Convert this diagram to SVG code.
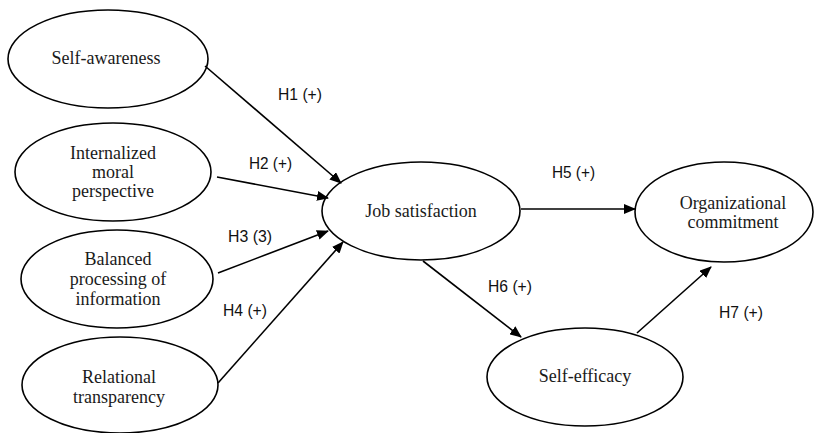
<svg xmlns="http://www.w3.org/2000/svg" width="819" height="433" viewBox="0 0 819 433">
<defs>
<style>
.n{fill:#fff;stroke:#000;stroke-width:1.6}
.t{font-family:"Liberation Serif","Times New Roman",serif;font-size:18px;fill:#1a1a1a;text-anchor:middle}
.l{font-family:"Liberation Sans",Arial,sans-serif;font-size:16px;fill:#111}
.c{stroke:#000;stroke-width:1.6;fill:none;marker-end:url(#ah)}
</style>
<marker id="ah" markerWidth="12" markerHeight="10" refX="11" refY="5" orient="auto" markerUnits="userSpaceOnUse">
<path d="M0,0 L12,5 L0,10 Z" fill="#000"/>
</marker>
</defs>
<rect width="819" height="433" fill="#fff"/>
<g id="self-awareness"><ellipse class="n" cx="108" cy="59" rx="100" ry="49"/><text class="t" x="106" y="64">Self-awareness</text></g>
<g id="internalized"><ellipse class="n" cx="113" cy="172" rx="98" ry="49"/><text class="t" x="113" y="159">Internalized</text><text class="t" x="113" y="178">moral</text><text class="t" x="113" y="197">perspective</text></g>
<g id="balanced"><ellipse class="n" cx="117" cy="279" rx="96" ry="49"/><text class="t" x="118" y="265">Balanced</text><text class="t" x="118" y="285">processing of</text><text class="t" x="118" y="305">information</text></g>
<g id="relational"><ellipse class="n" cx="120" cy="385" rx="98" ry="48"/><text class="t" x="119" y="383">Relational</text><text class="t" x="119" y="403">transparency</text></g>
<g id="job"><ellipse class="n" cx="421" cy="211" rx="99" ry="49"/><text class="t" x="421" y="217">Job satisfaction</text></g>
<g id="org"><ellipse class="n" cx="724" cy="212" rx="89" ry="50"/><text class="t" x="733" y="209">Organizational</text><text class="t" x="733" y="228">commitment</text></g>
<g id="efficacy"><ellipse class="n" cx="585" cy="377" rx="98" ry="49"/><text class="t" x="585" y="382">Self-efficacy</text></g>
<g id="connectors">
<line class="c" x1="205" y1="66" x2="341" y2="183"/>
<line class="c" x1="217" y1="177" x2="328" y2="198"/>
<line class="c" x1="218" y1="273" x2="328" y2="231"/>
<line class="c" x1="218" y1="383" x2="343" y2="242"/>
<line class="c" x1="521" y1="209" x2="635" y2="209"/>
<line class="c" x1="423" y1="261" x2="521" y2="337"/>
<line class="c" x1="637" y1="333" x2="711" y2="267"/>
</g>
<g id="labels">
<text class="l" x="278" y="100" textLength="44" lengthAdjust="spacingAndGlyphs">H1 (+)</text>
<text class="l" x="249" y="169" textLength="43" lengthAdjust="spacingAndGlyphs">H2 (+)</text>
<text class="l" x="228" y="242" textLength="44" lengthAdjust="spacingAndGlyphs">H3 (3)</text>
<text class="l" x="223" y="316" textLength="44" lengthAdjust="spacingAndGlyphs">H4 (+)</text>
<text class="l" x="552" y="178" textLength="43" lengthAdjust="spacingAndGlyphs">H5 (+)</text>
<text class="l" x="488" y="292" textLength="44" lengthAdjust="spacingAndGlyphs">H6 (+)</text>
<text class="l" x="719" y="318" textLength="44" lengthAdjust="spacingAndGlyphs">H7 (+)</text>
</g>
</svg>
